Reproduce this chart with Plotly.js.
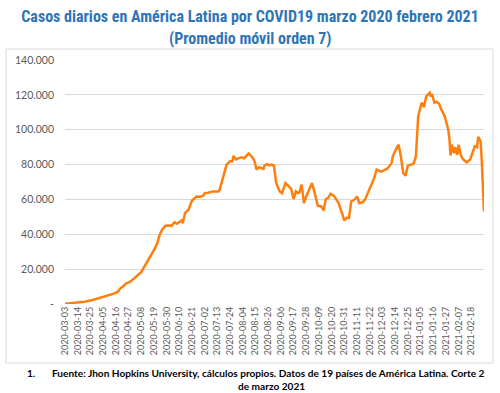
<!DOCTYPE html>
<html>
<head>
<meta charset="utf-8">
<script src="https://cdn.plot.ly/plotly-3.0.1.min.js"></script>
<style>html,body{margin:0;padding:0;background:#fff;}#chart{width:500px;height:393px;}</style>
</head>
<body>
<div id="chart"></div>
<script>
const fechas = ["2020-03-03","2020-03-13","2020-03-20","2020-03-27","2020-04-01","2020-04-05","2020-04-10","2020-04-15","2020-04-18","2020-04-20","2020-04-23","2020-04-25","2020-04-28","2020-04-30","2020-05-02","2020-05-05","2020-05-08","2020-05-10","2020-05-13","2020-05-16","2020-05-18","2020-05-20","2020-05-22","2020-05-24","2020-05-26","2020-05-29","2020-06-01","2020-06-03","2020-06-06","2020-06-08","2020-06-10","2020-06-12","2020-06-13","2020-06-15","2020-06-18","2020-06-21","2020-06-23","2020-06-25","2020-06-28","2020-07-01","2020-07-02","2020-07-05","2020-07-09","2020-07-12","2020-07-14","2020-07-15","2020-07-18","2020-07-21","2020-07-24","2020-07-26","2020-07-27","2020-07-29","2020-07-31","2020-08-03","2020-08-05","2020-08-07","2020-08-09","2020-08-12","2020-08-14","2020-08-16","2020-08-18","2020-08-20","2020-08-22","2020-08-23","2020-08-25","2020-08-27","2020-08-29","2020-08-31","2020-09-02","2020-09-05","2020-09-07","2020-09-10","2020-09-12","2020-09-15","2020-09-17","2020-09-19","2020-09-21","2020-09-22","2020-09-24","2020-09-26","2020-09-28","2020-10-01","2020-10-03","2020-10-05","2020-10-08","2020-10-11","2020-10-13","2020-10-15","2020-10-17","2020-10-19","2020-10-22","2020-10-24","2020-10-26","2020-10-29","2020-10-31","2020-11-02","2020-11-04","2020-11-06","2020-11-08","2020-11-10","2020-11-11","2020-11-13","2020-11-16","2020-11-18","2020-11-21","2020-11-24","2020-11-26","2020-11-28","2020-11-30","2020-12-02","2020-12-05","2020-12-07","2020-12-09","2020-12-11","2020-12-12","2020-12-14","2020-12-16","2020-12-17","2020-12-18","2020-12-19","2020-12-21","2020-12-23","2020-12-25","2020-12-27","2020-12-30","2021-01-01","2021-01-03","2021-01-05","2021-01-06","2021-01-08","2021-01-10","2021-01-12","2021-01-13","2021-01-14","2021-01-15","2021-01-17","2021-01-19","2021-01-21","2021-01-23","2021-01-26","2021-01-29","2021-01-30","2021-01-31","2021-02-01","2021-02-02","2021-02-03","2021-02-04","2021-02-05","2021-02-06","2021-02-07","2021-02-08","2021-02-09","2021-02-11","2021-02-14","2021-02-17","2021-02-20","2021-02-21","2021-02-23","2021-02-24","2021-02-26","2021-02-27","2021-03-01"];
const casos = [200,700,1300,2300,3200,4200,5200,6100,7200,9000,10500,11900,12500,13500,14800,16500,18300,20500,24000,27500,30000,32000,35000,39700,42500,44900,45000,44800,46800,46000,47000,47900,46400,52200,54100,59400,60500,61700,61500,62300,63600,63800,64600,64800,64600,65600,73300,80000,81900,81900,85000,83000,83600,84200,83500,85200,86300,84400,82300,77100,78500,78000,77500,79500,80200,79500,80000,79400,69400,64600,63600,69400,68000,66000,60200,64600,63600,63800,68500,57900,61700,66000,69400,64600,56400,56000,53700,60200,60800,63300,62000,60000,57900,52200,47900,49500,49300,58900,59500,60800,61700,57900,58500,60000,64600,69400,72500,77100,76500,76000,77000,77500,79000,81000,84800,88000,90500,91400,88000,84800,75200,73600,79400,80000,80500,84800,107800,113000,115500,113000,119300,120500,121200,119000,120500,115500,116000,115000,111600,107800,100100,95000,85200,91400,88000,86500,90000,87000,85600,91400,87000,85200,82900,81300,82900,89000,90500,90000,95900,93500,82900,53100];
const etiquetasX = ["2020-03-03","2020-03-14","2020-03-25","2020-04-05","2020-04-16","2020-04-27","2020-05-08","2020-05-19","2020-05-30","2020-06-10","2020-06-21","2020-07-02","2020-07-13","2020-07-24","2020-08-04","2020-08-15","2020-08-26","2020-09-06","2020-09-17","2020-09-28","2020-10-09","2020-10-20","2020-10-31","2020-11-11","2020-11-22","2020-12-03","2020-12-14","2020-12-25","2021-01-05","2021-01-16","2021-01-27","2021-02-07","2021-02-18"];
const valoresY = [0,20000,40000,60000,80000,100000,120000,140000];
const etiquetasY = ["-","20.000","40.000","60.000","80.000","100.000","120.000","140.000"];
const titulo1 = "Casos diarios en América Latina por COVID19 marzo 2020 febrero 2021";
const titulo2 = "(Promedio móvil orden 7)";
const nota1 = "Fuente: Jhon Hopkins University, cálculos propios. Datos de 19 países de América Latina. Corte 2";
const nota2 = "de marzo 2021";

const tFont = {family: '"Liberation Sans Narrow", "Roboto Condensed", Lato, sans-serif', size: 16, color: '#2e75b6'};
const nFont = {family: 'Lato, sans-serif', size: 10.1, color: '#000'};
const py = p => (304 - p) / 244;
const px = p => (p - 65) / 419;

const trace = {
  x: fechas, y: casos, type: 'scatter', mode: 'lines',
  line: {color: '#ff7f0e', width: 2.5}, hoverinfo: 'x+y'
};
const layout = {
  width: 500, height: 393,
  margin: {l: 65, r: 16, t: 60, b: 89},
  paper_bgcolor: '#ffffff', plot_bgcolor: '#ffffff',
  showlegend: false,
  font: {family: 'Lato, "Open Sans", sans-serif', color: '#595959'},
  title: {
    text: '<b>' + titulo1 + '</b>', font: tFont,
    x: 0.5, xref: 'container', xanchor: 'center',
    yref: 'container', y: 1 - 16/393, yanchor: 'middle'
  },
  xaxis: {
    type: 'date', range: ['2020-03-03', '2021-03-01'],
    tickvals: etiquetasX, ticktext: etiquetasX,
    tickangle: -90, tickfont: {size: 9, color: '#595959'},
    showgrid: false, showline: false, zeroline: false, ticks: '', fixedrange: true
  },
  yaxis: {
    range: [0, 140000], tickvals: valoresY, ticktext: etiquetasY,
    tickfont: {size: 10.5, color: '#595959'},
    showgrid: true, gridcolor: '#d9d9d9', gridwidth: 1,
    zeroline: false, showline: false, ticks: '', ticklabelstandoff: 10
  },
  shapes: [{
    type: 'rect', xref: 'paper', yref: 'paper',
    x0: px(6), x1: px(493), y0: py(363), y1: py(49),
    line: {color: '#d9d9d9', width: 1}, fillcolor: 'rgba(0,0,0,0)', layer: 'below'
  }],
  annotations: [
    {text: '<b>' + titulo2 + '</b>', xref: 'paper', yref: 'paper', x: px(250), y: py(39),
     xanchor: 'center', yanchor: 'middle', showarrow: false, font: tFont},
    {text: '<b>1.</b>', xref: 'paper', yref: 'paper', x: px(31), y: py(373),
     xanchor: 'center', yanchor: 'middle', showarrow: false, font: nFont},
    {text: '<b>' + nota1 + '</b>', xref: 'paper', yref: 'paper', x: px(50), y: py(373),
     xanchor: 'left', yanchor: 'middle', showarrow: false, font: nFont},
    {text: '<b>' + nota2 + '</b>', xref: 'paper', yref: 'paper', x: px(271), y: py(386),
     xanchor: 'center', yanchor: 'middle', showarrow: false, font: nFont}
  ]
};
Plotly.newPlot('chart', [trace], layout, {displayModeBar: false, staticPlot: true});
</script>
</body>
</html>
